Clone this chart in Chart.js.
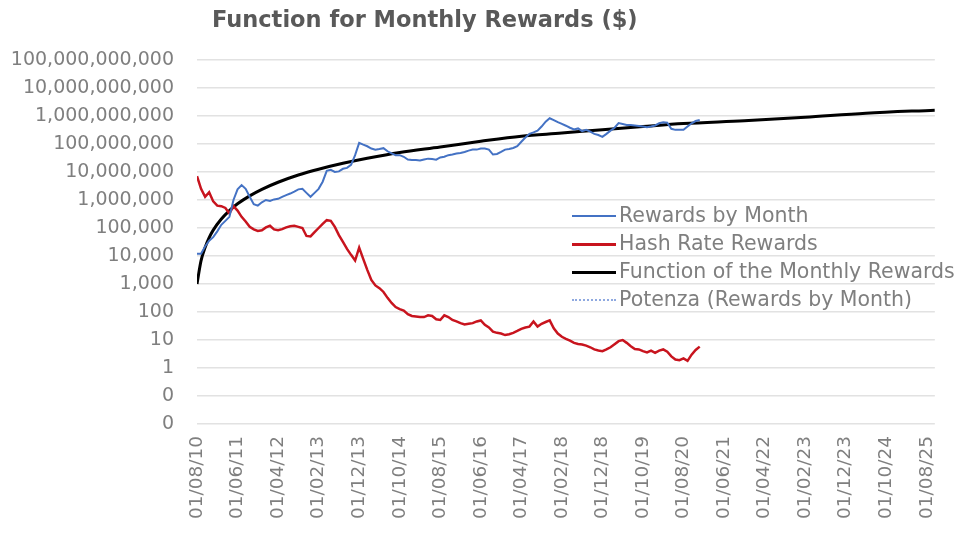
<!DOCTYPE html>
<html>
<head>
<meta charset="utf-8">
<script src="https://cdn.jsdelivr.net/npm/chart.js@4.4.1/dist/chart.umd.min.js"></script>
<style>
  html, body { margin: 0; padding: 0; background: #fff; }
  #wrap { position: relative; width: 961px; height: 535px; }
  #title {
    position: absolute; left: 212px; top: 6px; white-space: nowrap;
    font: bold 22.5px "DejaVu Sans", sans-serif; color: #595959;
  }
  #legend {
    position: absolute; left: 572px; top: 201px;
    font: 20.5px "DejaVu Sans", sans-serif; color: #7f7f7f;
  }
  .lg-row { height: 28px; line-height: 28px; white-space: nowrap; }
  .lg-sw { display: inline-block; width: 44px; vertical-align: middle; margin-right: 3px; }
</style>
</head>
<body>
<div id="wrap">
  <canvas id="chart" width="961" height="535"></canvas>
  <div id="title">Function for Monthly Rewards ($)</div>
  <div id="legend"></div>
</div>
<script>
/* ══════════════════════════════════════════════════════════════════════════════
   DATA — one point per month starting 01/08/10
══════════════════════════════════════════════════════════════════════════════ */
const xLabels = [
  "01/08/10", "01/06/11", "01/04/12", "01/02/13", "01/12/13", "01/10/14",
  "01/08/15", "01/06/16", "01/04/17", "01/02/18", "01/12/18", "01/10/19",
  "01/08/20", "01/06/21", "01/04/22", "01/02/23", "01/12/23", "01/10/24",
  "01/08/25",
];
const yTicks = [0.01, 0.1, 1, 10, 100, 1e3, 1e4, 1e5, 1e6, 1e7, 1e8, 1e9, 1e10, 1e11];

// Rewards by Month (months 0..124)
const rewardsByMonth = [
  1.2e4, 1.2e4, 2.2e4, 3.5e4, 4.7e4, 7.6e4, 1.3e5, 1.8e5, 2.5e5, 1.0e6,
  2.4e6, 3.4e6, 2.5e6, 1.3e6, 7.1e5, 6.3e5, 8.3e5, 1.0e6, 9.3e5, 1.05e6,
  1.1e6, 1.3e6, 1.5e6, 1.7e6, 2.0e6, 2.4e6, 2.5e6, 1.8e6, 1.3e6, 1.8e6,
  2.5e6, 4.5e6, 1.1e7, 1.2e7, 1.0e7, 1.05e7, 1.3e7, 1.4e7, 1.8e7, 4.0e7,
  1.1e8, 9.5e7, 8.3e7, 6.9e7, 6.3e7, 6.6e7, 7.1e7, 5.5e7, 4.6e7, 4.0e7,
  4.0e7, 3.5e7, 2.8e7, 2.7e7, 2.7e7, 2.6e7, 2.8e7, 3.0e7, 2.9e7, 2.75e7,
  3.3e7, 3.5e7, 4.0e7, 4.2e7, 4.6e7, 4.8e7, 5.2e7, 5.8e7, 6.3e7, 6.3e7,
  6.9e7, 6.9e7, 6.3e7, 4.2e7, 4.4e7, 5.2e7, 6.3e7, 6.6e7, 7.2e7, 8.3e7,
  1.2e8, 1.7e8, 2.3e8, 2.6e8, 3.0e8, 4.2e8, 6.3e8, 8.3e8, 7.1e8, 6.0e8,
  5.2e8, 4.5e8, 3.8e8, 3.3e8, 3.6e8, 2.9e8, 3.2e8, 2.75e8, 2.3e8, 2.1e8,
  1.8e8, 2.3e8, 3.0e8, 3.8e8, 5.6e8, 5.2e8, 4.8e8, 4.8e8, 4.6e8, 4.4e8,
  4.2e8, 4.0e8, 4.2e8, 4.6e8, 5.5e8, 6.0e8, 5.8e8, 3.5e8, 3.2e8, 3.2e8,
  3.2e8, 4.2e8, 5.5e8, 6.6e8, 7.2e8,
];

// Hash Rate Rewards (months 0..124)
const hashRateRewards = [
  7.1e6, 2.5e6, 1.3e6, 1.9e6, 8.9e5, 6.3e5, 6.0e5, 5.2e5, 3.3e5, 6.0e5,
  4.2e5, 2.5e5, 1.7e5, 1.1e5, 8.9e4, 7.9e4, 8.3e4, 1.05e5, 1.2e5, 8.9e4,
  8.3e4, 9.1e4, 1.05e5, 1.15e5, 1.2e5, 1.1e5, 1.0e5, 5.2e4, 5.0e4, 7.1e4,
  1.0e5, 1.4e5, 1.9e5, 1.8e5, 1.1e5, 5.6e4, 3.2e4, 1.8e4, 1.1e4, 6.9e3,
  2.0e4, 7.9e3, 3.2e3, 1.4e3, 890, 710, 520, 320, 210, 150,
  126, 112, 83, 72, 69, 66, 66, 76, 72, 55,
  52, 76, 66, 52, 46, 40, 36, 38, 40, 46,
  50, 35, 28, 20, 18, 17, 15, 16, 18, 21,
  25, 28, 30, 46, 30, 38, 44, 50, 26, 17,
  13, 11, 9.5, 7.9, 7.2, 6.9, 6.3, 5.5, 4.6, 4.2,
  4.0, 4.6, 5.5, 7.1, 9.1, 10, 7.9, 6.0, 4.8, 4.6,
  4.0, 3.6, 4.2, 3.5, 4.2, 4.6, 3.8, 2.6, 2.0, 1.9,
  2.2, 1.8, 3.0, 4.4, 5.8,
];

// Function of the Monthly Rewards — read at selected months
const functionMonths = [0, 1, 2, 3, 4, 6, 8, 10, 13, 16, 20, 25, 30, 36, 42, 50, 60, 70, 80, 90, 100, 110, 120, 135, 150, 165, 182];
const functionValues = [
  1000, 6800, 2.0e4, 4.5e4, 8.4e4, 2.1e5, 4.2e5, 7.3e5, 1.4e6, 2.4e6,
  4.3e6, 7.8e6, 1.26e7, 2.05e7, 3.1e7, 5.0e7, 7.8e7, 1.25e8, 1.9e8, 2.45e8,
  3.25e8, 4.2e8, 5.35e8, 6.8e8, 9.1e8, 1.26e9, 1.62e9,
];

/* ══════════════════════════════════════════════════════════════════════════════
   STYLE
══════════════════════════════════════════════════════════════════════════════ */
const BLUE = "#4472c4";
const RED = "#c8141e";
const BLACK = "#000000";
const GRID = "#e2e2e2";
const TEXT = "#7f7f7f";
const FONT = "DejaVu Sans";

const toPoints = (values, xs) => values.map((v, i) => ({ x: xs ? xs[i] : i, y: v }));

/* ══════════════════════════════════════════════════════════════════════════════
   CHART
══════════════════════════════════════════════════════════════════════════════ */
new Chart(document.getElementById("chart"), {
  type: "line",
  data: {
    datasets: [
      {
        label: "Rewards by Month",
        data: toPoints(rewardsByMonth),
        borderColor: BLUE,
        borderWidth: 2,
        pointRadius: 0,
      },
      {
        label: "Hash Rate Rewards",
        data: toPoints(hashRateRewards),
        borderColor: RED,
        borderWidth: 2.5,
        pointRadius: 0,
      },
      {
        label: "Function of the Monthly Rewards",
        data: toPoints(functionValues, functionMonths),
        borderColor: BLACK,
        borderWidth: 3,
        pointRadius: 0,
        cubicInterpolationMode: "monotone",
      },
    ],
  },
  options: {
    responsive: false,
    animation: false,
    layout: { padding: { top: 60, right: 6, left: 0, bottom: 0 } },
    plugins: {
      legend: { display: false },
      tooltip: { enabled: false },
    },
    scales: {
      x: {
        type: "linear",
        min: 0,
        max: 182,
        afterBuildTicks: (s) => { s.ticks = xLabels.map((_, i) => ({ value: i * 10 })); },
        afterFit: (s) => { s.height = 111; },
        grid: { display: false, drawTicks: false },
        border: { display: false },
        ticks: {
          autoSkip: false,
          minRotation: 90,
          maxRotation: 90,
          padding: 12,
          color: TEXT,
          font: { family: FONT, size: 18.5 },
          callback: (v) => xLabels[Math.round(v / 10)],
        },
      },
      y: {
        type: "logarithmic",
        min: 0.01,
        max: 1e11,
        afterBuildTicks: (s) => { s.ticks = yTicks.map((v) => ({ value: v })); },
        afterFit: (s) => { s.width = 197; },
        grid: { color: GRID, lineWidth: 1.5, drawTicks: false },
        border: { display: false },
        ticks: {
          padding: 23,
          color: TEXT,
          font: { family: FONT, size: 19 },
          callback: (v) => Math.round(v).toLocaleString("en-US"),
        },
      },
    },
  },
});

/* ══════════════════════════════════════════════════════════════════════════════
   LEGEND (inside plot area)
══════════════════════════════════════════════════════════════════════════════ */
const legendItems = [
  { text: "Rewards by Month", border: `2px solid ${BLUE}` },
  { text: "Hash Rate Rewards", border: `3px solid ${RED}` },
  { text: "Function of the Monthly Rewards", border: `3px solid ${BLACK}` },
  { text: "Potenza (Rewards by Month)", border: `2px dotted #8fa9e0` },
];
document.getElementById("legend").innerHTML = legendItems
  .map((it) => `<div class="lg-row"><span class="lg-sw" style="border-top:${it.border}"></span>${it.text}</div>`)
  .join("");
</script>
</body>
</html>
